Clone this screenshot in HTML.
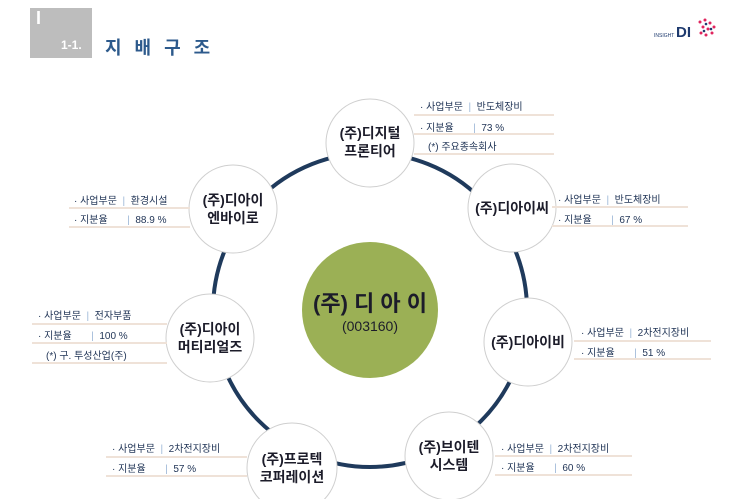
<!DOCTYPE html>
<html><head><meta charset="utf-8"><style>
body{margin:0;width:731px;height:499px;background:#fff;position:relative;overflow:hidden;font-family:"Liberation Sans","Noto Sans CJK KR",sans-serif;}
.abs{position:absolute;}
.t{position:absolute;font-size:10px;color:#1f3355;white-space:nowrap;}
.ln{position:absolute;height:2px;background:#efe2d8;}
.bar{color:#9bb6d6;}
.nl{position:absolute;text-align:center;font-weight:bold;color:#1c1c2a;font-size:14px;line-height:18px;white-space:nowrap;}
</style></head><body>
<div class="abs" style="left:30px;top:8px;width:62px;height:50px;background:#bdbdbd"></div>
<div class="abs" style="left:36px;top:8px;color:#fff;font-size:18px;font-weight:bold">I</div>
<div class="abs" style="left:61px;top:38px;color:#fff;font-size:12px;font-weight:bold">1-1.</div>
<div class="abs" style="left:105px;top:34px;color:#2d5a8c;font-size:18px;font-weight:bold;letter-spacing:4px">지 배 구 조</div>
<div class="abs" style="left:654px;top:33px;color:#1e3a6e;font-size:5px">INSIGHT</div>
<div class="abs" style="left:676px;top:24px;color:#1e3a6e;font-size:15px;font-weight:bold">DI</div>
<svg class="abs" style="left:694px;top:14px" width="26" height="26"><g fill="#e0245e"><circle cx="6" cy="8" r="1.5"/><circle cx="11" cy="6" r="1.5"/><circle cx="16" cy="9" r="1.5"/><circle cx="20" cy="13" r="1.5"/><circle cx="9" cy="13" r="1.5"/><circle cx="14" cy="15" r="1.5"/><circle cx="7" cy="19" r="1.5"/><circle cx="12" cy="21" r="1.5"/><circle cx="18" cy="19" r="1.5"/></g><g fill="#1e3a6e"><circle cx="12" cy="10" r="1.3"/><circle cx="17" cy="15" r="1.3"/><circle cx="10" cy="17" r="1.3"/></g></svg>

<svg class="abs" style="left:0;top:0" width="731" height="499">
<circle cx="370" cy="310" r="157" fill="none" stroke="#1f3a5c" stroke-width="4"/>
<circle cx="370" cy="310" r="68" fill="#9bb055"/>
<g fill="#fff" stroke="#cfcfcf" stroke-width="1">
<circle cx="370" cy="143" r="44"/>
<circle cx="512" cy="208" r="44"/>
<circle cx="528" cy="342" r="44"/>
<circle cx="449" cy="456" r="44"/>
<circle cx="292" cy="468" r="45"/>
<circle cx="210" cy="338" r="44"/>
<circle cx="233" cy="209" r="44"/>
</g>
</svg>
<div class="nl" style="left:300px;top:292px;width:140px;font-size:22px;line-height:24px;color:#1c1c2a">(주) 디 아 이</div>
<div class="abs" style="left:300px;top:318px;width:140px;text-align:center;font-size:14px;color:#1c1c2a">(003160)</div>

<div class="nl" style="left:320px;top:124px;width:100px">(주)디지털<br>프론티어</div>
<div class="nl" style="left:462px;top:199px;width:100px">(주)디아이씨</div>
<div class="nl" style="left:478px;top:333px;width:100px">(주)디아이비</div>
<div class="nl" style="left:399px;top:438px;width:100px">(주)브이텐<br>시스템</div>
<div class="nl" style="left:242px;top:450px;width:100px">(주)프로텍<br>코퍼레이션</div>
<div class="nl" style="left:160px;top:320px;width:100px">(주)디아이<br>머티리얼즈</div>
<div class="nl" style="left:183px;top:191px;width:100px">(주)디아이<br>엔바이로</div>

<div class="t" style="left:420px;top:98px">· 사업부문 &nbsp;<span class="bar">|</span>&nbsp; 반도체장비</div>
<div class="ln" style="left:414px;top:114px;width:140px"></div>
<div class="t" style="left:420px;top:119px">· 지분율 &nbsp;&nbsp;&nbsp;&nbsp;&nbsp;&nbsp;<span class="bar">|</span>&nbsp; 73 %</div>
<div class="ln" style="left:414px;top:133px;width:140px"></div>
<div class="t" style="left:428px;top:138px">(*) 주요종속회사</div>
<div class="ln" style="left:414px;top:153px;width:140px"></div>
<div class="t" style="left:558px;top:191px">· 사업부문 &nbsp;<span class="bar">|</span>&nbsp; 반도체장비</div>
<div class="ln" style="left:552px;top:206px;width:136px"></div>
<div class="t" style="left:558px;top:211px">· 지분율 &nbsp;&nbsp;&nbsp;&nbsp;&nbsp;&nbsp;<span class="bar">|</span>&nbsp; 67 %</div>
<div class="ln" style="left:552px;top:225px;width:136px"></div>
<div class="t" style="left:581px;top:324px">· 사업부문 &nbsp;<span class="bar">|</span>&nbsp; 2차전지장비</div>
<div class="ln" style="left:574px;top:340px;width:137px"></div>
<div class="t" style="left:581px;top:344px">· 지분율 &nbsp;&nbsp;&nbsp;&nbsp;&nbsp;&nbsp;<span class="bar">|</span>&nbsp; 51 %</div>
<div class="ln" style="left:574px;top:358px;width:137px"></div>
<div class="t" style="left:501px;top:440px">· 사업부문 &nbsp;<span class="bar">|</span>&nbsp; 2차전지장비</div>
<div class="ln" style="left:495px;top:455px;width:137px"></div>
<div class="t" style="left:501px;top:459px">· 지분율 &nbsp;&nbsp;&nbsp;&nbsp;&nbsp;&nbsp;<span class="bar">|</span>&nbsp; 60 %</div>
<div class="ln" style="left:495px;top:474px;width:137px"></div>
<div class="t" style="left:112px;top:440px">· 사업부문 &nbsp;<span class="bar">|</span>&nbsp; 2차전지장비</div>
<div class="ln" style="left:106px;top:456px;width:141px"></div>
<div class="t" style="left:112px;top:460px">· 지분율 &nbsp;&nbsp;&nbsp;&nbsp;&nbsp;&nbsp;<span class="bar">|</span>&nbsp; 57 %</div>
<div class="ln" style="left:106px;top:475px;width:141px"></div>
<div class="t" style="left:38px;top:307px">· 사업부문 &nbsp;<span class="bar">|</span>&nbsp; 전자부품</div>
<div class="ln" style="left:32px;top:323px;width:135px"></div>
<div class="t" style="left:38px;top:327px">· 지분율 &nbsp;&nbsp;&nbsp;&nbsp;&nbsp;&nbsp;<span class="bar">|</span>&nbsp; 100 %</div>
<div class="ln" style="left:32px;top:342px;width:135px"></div>
<div class="t" style="left:46px;top:347px">(*) 구. 투성산업(주)</div>
<div class="ln" style="left:32px;top:362px;width:135px"></div>
<div class="t" style="left:74px;top:192px">· 사업부문 &nbsp;<span class="bar">|</span>&nbsp; 환경시설</div>
<div class="ln" style="left:69px;top:207px;width:121px"></div>
<div class="t" style="left:74px;top:211px">· 지분율 &nbsp;&nbsp;&nbsp;&nbsp;&nbsp;&nbsp;<span class="bar">|</span>&nbsp; 88.9 %</div>
<div class="ln" style="left:69px;top:226px;width:121px"></div>
</body></html>
